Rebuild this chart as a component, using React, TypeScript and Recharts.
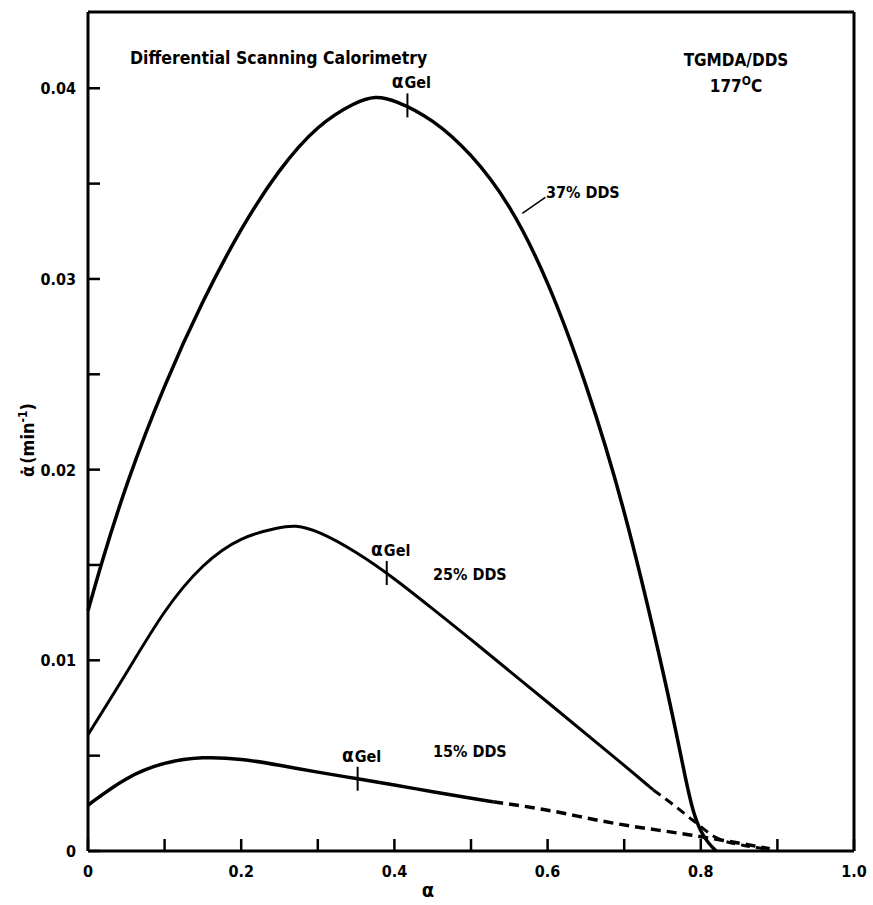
import React from 'react';
import { ComposedChart, Line, XAxis, YAxis, ReferenceDot, ReferenceLine } from 'recharts';

const FONT = '"DejaVu Sans Condensed", "DejaVu Sans", sans-serif';
const INK = '#000';

// degree of cure (alpha) and cure rate (min^-1) for each DDS level
const alpha37 = [0, 0.016, 0.05, 0.1, 0.15, 0.2, 0.25, 0.3, 0.35, 0.375, 0.4, 0.45, 0.5, 0.55, 0.6, 0.65, 0.7, 0.75, 0.77, 0.78, 0.79, 0.8, 0.81, 0.82];
const rate37 = [0.0126, 0.0149, 0.0193, 0.0245, 0.0289, 0.0327, 0.0358, 0.0381, 0.0393, 0.0396, 0.0394, 0.0384, 0.0366, 0.034, 0.03, 0.0246, 0.0181, 0.0096, 0.0058, 0.0038, 0.002, 0.001, 0.0004, 0];

const alpha25 = [0, 0.05, 0.1, 0.15, 0.2, 0.25, 0.27, 0.3, 0.35, 0.4, 0.45, 0.5, 0.6, 0.7, 0.738];
const rate25 = [0.0061, 0.0093, 0.0127, 0.0151, 0.0165, 0.01697, 0.0171, 0.0168, 0.0157, 0.0143, 0.0127, 0.0111, 0.0078, 0.0045, 0.0032];
const alpha25Ext = [0.738, 0.765, 0.79, 0.82, 0.855, 0.89];
const rate25Ext = [0.0032, 0.0024, 0.0016, 0.0007, 0.0003, 0.0001];

const alpha15 = [0, 0.05, 0.1, 0.15, 0.2, 0.25, 0.3, 0.35, 0.4, 0.45, 0.5, 0.529];
const rate15 = [0.0024, 0.0039, 0.00468, 0.00495, 0.00484, 0.0045, 0.00413, 0.0038, 0.00346, 0.00311, 0.00277, 0.00258];
const alpha15Ext = [0.529, 0.586, 0.686, 0.786, 0.83, 0.89];
const rate15Ext = [0.00258, 0.00224, 0.00146, 0.00084, 0.00055, 0.00012];

// gel points marked on each curve
const gelAlpha = [0.417, 0.39, 0.352];
const gelRate = [0.0391, 0.01458, 0.00379];

const xTicks = [0, 0.1, 0.2, 0.3, 0.4, 0.5, 0.6, 0.7, 0.8, 0.9, 1.0];
const xLabels = ['0', '', '0.2', '', '0.4', '', '0.6', '', '0.8', '', '1.0'];
const yTicks = [0, 0.005, 0.01, 0.015, 0.02, 0.025, 0.03, 0.035, 0.04];
const yLabels = ['0', '', '0.01', '', '0.02', '', '0.03', '', '0.04'];

const rows = (xs: number[], ys: number[]) => xs.map((a, i) => ({ a, v: ys[i] }));

const TICK = 12;
const labelText = { fontFamily: FONT, fontSize: 16, fontWeight: 'bold' as const, fill: INK };

const findLabel = (ticks: number[], labels: string[], value: number) => {
  const i = ticks.findIndex((t) => Math.abs(t - value) < 1e-9);
  return i >= 0 ? labels[i] : '';
};

function BottomTick(props: any) {
  const { x, y, payload } = props;
  const label = findLabel(xTicks, xLabels, payload.value);
  return (
    <g>
      <line x1={x} y1={y} x2={x} y2={y - TICK} stroke={INK} strokeWidth={2.5} />
      {label && (
        <text x={x} y={y + 26} textAnchor="middle" {...labelText}>
          {label}
        </text>
      )}
    </g>
  );
}

function TopTick(props: any) {
  const { x, y } = props;
  return <line x1={x} y1={y} x2={x} y2={y + TICK} stroke={INK} strokeWidth={2.5} />;
}

function LeftTick(props: any) {
  const { x, y, payload } = props;
  const label = findLabel(yTicks, yLabels, payload.value);
  return (
    <g>
      <line x1={x} y1={y} x2={x + TICK} y2={y} stroke={INK} strokeWidth={2.5} />
      {label && (
        <text x={x - 12} y={y + 6} textAnchor="end" {...labelText}>
          {label}
        </text>
      )}
    </g>
  );
}

function RightTick(props: any) {
  const { x, y } = props;
  return <line x1={x} y1={y} x2={x - TICK} y2={y} stroke={INK} strokeWidth={2.5} />;
}

function GelMark(props: any) {
  const { cx, cy } = props;
  return (
    <g>
      <line x1={cx} y1={cy - 12} x2={cx} y2={cy + 12} stroke={INK} strokeWidth={2} />
      <text x={cx + 4} y={cy - 17} textAnchor="middle" {...labelText}>
        <tspan fontSize={19}>α</tspan>
        <tspan dx={1}>Gel</tspan>
      </text>
    </g>
  );
}

export default function App() {
  const axisLine = { stroke: INK, strokeWidth: 3 };
  return (
    <div style={{ position: 'absolute', left: 0, top: 0, background: '#fff' }}>
      <ComposedChart width={873} height={905} margin={{ top: 0, right: 0, bottom: 0, left: 0 }}>
        <XAxis
          type="number"
          dataKey="a"
          domain={[0, 1]}
          ticks={xTicks}
          interval={0}
          height={54}
          tickSize={0}
          tickMargin={0}
          tickLine={false}
          axisLine={axisLine}
          tick={BottomTick}
        />
        <XAxis
          xAxisId="top"
          orientation="top"
          type="number"
          domain={[0, 1]}
          ticks={xTicks}
          interval={0}
          height={12}
          tickSize={0}
          tickMargin={0}
          tickLine={false}
          axisLine={axisLine}
          tick={TopTick}
        />
        <YAxis
          type="number"
          domain={[0, 0.044]}
          ticks={yTicks}
          interval={0}
          width={88}
          tickSize={0}
          tickMargin={0}
          tickLine={false}
          axisLine={axisLine}
          tick={LeftTick}
        />
        <YAxis
          yAxisId="right"
          orientation="right"
          type="number"
          domain={[0, 0.044]}
          ticks={yTicks}
          interval={0}
          width={19}
          tickSize={0}
          tickMargin={0}
          tickLine={false}
          axisLine={axisLine}
          tick={RightTick}
        />

        <Line data={rows(alpha37, rate37)} dataKey="v" type="basis" stroke={INK} strokeWidth={3.5} dot={false} isAnimationActive={false} />
        <Line data={rows(alpha25, rate25)} dataKey="v" type="basis" stroke={INK} strokeWidth={3} dot={false} isAnimationActive={false} />
        <Line data={rows(alpha25Ext, rate25Ext)} dataKey="v" type="monotone" stroke={INK} strokeWidth={3} strokeDasharray="9 6" dot={false} isAnimationActive={false} />
        <Line data={rows(alpha15, rate15)} dataKey="v" type="basis" stroke={INK} strokeWidth={3.5} dot={false} isAnimationActive={false} />
        <Line data={rows(alpha15Ext, rate15Ext)} dataKey="v" type="monotone" stroke={INK} strokeWidth={3.5} strokeDasharray="10 6" dot={false} isAnimationActive={false} />

        {gelAlpha.map((a, i) => (
          <ReferenceDot key={i} x={a} y={gelRate[i]} r={0} shape={GelMark} />
        ))}

        {/* leader from the 37% curve to its label */}
        <ReferenceLine
          segment={[{ x: 0.567, y: 0.03344 }, { x: 0.597, y: 0.03428 }]}
          stroke={INK}
          strokeWidth={1.5}
        />

        <text x={130} y={64} {...labelText} fontSize={17.5}>Differential Scanning Calorimetry</text>
        <text x={736} y={66} textAnchor="middle" {...labelText} fontSize={17}>TGMDA/DDS</text>
        <text x={736} y={92} textAnchor="middle" {...labelText} fontSize={17}>
          177<tspan dy={-7} fontSize={12}>O</tspan><tspan dy={7}>C</tspan>
        </text>
        <text x={546} y={198} {...labelText}>37% DDS</text>
        <text x={433} y={580} {...labelText}>25% DDS</text>
        <text x={433} y={757} {...labelText}>15% DDS</text>

        <text x={428} y={897} textAnchor="middle" {...labelText} fontSize={20}>α</text>
        <text transform="translate(34, 440) rotate(-90)" textAnchor="middle" {...labelText} fontSize={18}>
          α̇<tspan dx={2}>(min</tspan><tspan dy={-7} fontSize={12}>-1</tspan><tspan dy={7}>)</tspan>
        </text>
      </ComposedChart>
    </div>
  );
}
